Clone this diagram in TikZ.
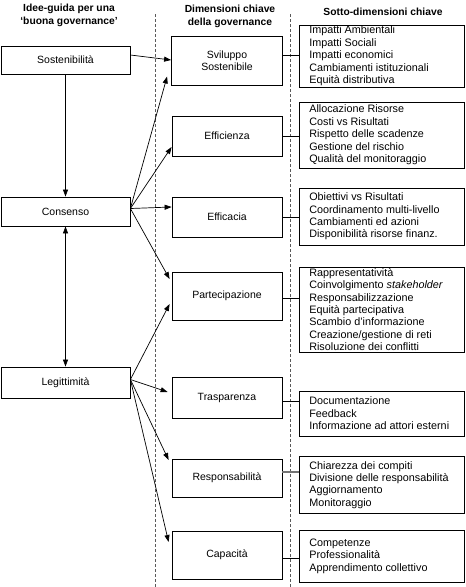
\documentclass[tikz,border=0pt]{standalone}
\usepackage{fontspec}
\setmainfont{Liberation Sans}
\usetikzlibrary{arrows.meta}
\begin{document}
\begin{tikzpicture}[x=1pt,y=-1pt,
  box/.style={draw,line width=0.8pt,inner sep=0pt,font=\fontsize{10.5}{12.5}\selectfont,align=center},
  lst/.style={draw,line width=0.8pt,inner sep=0pt,minimum width=165pt},
  lsttext/.style={anchor=west,inner sep=0pt,align=left,font=\fontsize{10.8}{12.4}\selectfont},
  head/.style={font=\fontsize{10.3}{13}\selectfont\bfseries,align=center},
  arr/.style={-{Triangle[length=7pt,width=5pt]},line width=0.7pt},
  link/.style={line width=0.7pt},
  sep/.style={dash pattern=on 3pt off 2pt,line width=0.8pt,black!65}]
\useasboundingbox (0,0) rectangle (466,587);
% separators
\draw[sep] (155,14) -- (155,587);
\draw[sep] (290,14) -- (290,587);
% headings
\node[head] (h1) at (69,15) {Idee-guida per una\\‘buona governance’};
\node[head] (h2) at (230,16) {Dimensioni chiave\\della governance};
\node[head] (h3) at (383,12) {Sotto-dimensioni chiave};
% left column
\node[box,minimum width=129pt,minimum height=28pt] (sos) at (65.5,60) {Sostenibilità};
\node[box,minimum width=129pt,minimum height=29pt] (con) at (65.5,211.5) {Consenso};
\node[box,minimum width=129pt,minimum height=31pt] (leg) at (65.5,382.5) {Legittimità};
% middle column
\node[box,minimum width=111pt,minimum height=49pt] (svs) at (227,60.5) {Sviluppo\\Sostenibile};
\node[box,minimum width=110pt,minimum height=40pt] (eff) at (227,136) {Efficienza};
\node[box,minimum width=110pt,minimum height=40pt] (efc) at (227,217) {Efficacia};
\node[box,minimum width=110pt,minimum height=48pt] (par) at (227,296) {Partecipazione};
\node[box,minimum width=110pt,minimum height=41pt] (tra) at (227,397.5) {Trasparenza};
\node[box,minimum width=110pt,minimum height=38pt] (res) at (227,478) {Responsabilità};
\node[box,minimum width=110pt,minimum height=48pt] (cap) at (227,555) {Capacità};
% right column
\node[lst,minimum height=62pt] (l1) at (382,56) {};
\node[lst,minimum height=66pt] (l2) at (382,135) {};
\node[lst,minimum height=57pt] (l3) at (382,216.5) {};
\node[lst,minimum height=85pt] (l4) at (382,309.5) {};
\node[lst,minimum height=45pt] (l5) at (382,413.5) {};
\node[lst,minimum height=57pt] (l6) at (382,485) {};
\node[lst,minimum height=52pt] (l7) at (382,556) {};
\node[lsttext] (t1) at ([xshift=10pt]l1.west) {Impatti Ambientali\\Impatti Sociali\\Impatti economici\\Cambiamenti istituzionali\\Equità distributiva};
\node[lsttext] (t2) at ([xshift=10pt]l2.west) {Allocazione Risorse\\Costi vs Risultati\\Rispetto delle scadenze\\Gestione del rischio\\Qualità del monitoraggio};
\node[lsttext] (t3) at ([xshift=10pt]l3.west) {Obiettivi vs Risultati\\Coordinamento multi-livello\\Cambiamenti ed azioni\\Disponibilità risorse finanz.};
\node[lsttext] (t4) at ([xshift=10pt]l4.west) {Rappresentatività\\Coinvolgimento \textit{stakeholder}\\Responsabilizzazione\\Equità partecipativa\\Scambio d'informazione\\Creazione/gestione di reti\\Risoluzione dei conflitti};
\node[lsttext] (t5) at ([xshift=10pt]l5.west) {Documentazione\\Feedback\\Informazione ad attori esterni};
\node[lsttext] (t6) at ([xshift=10pt]l6.west) {Chiarezza dei compiti\\Divisione delle responsabilità\\Aggiornamento\\Monitoraggio};
\node[lsttext] (t7) at ([xshift=10pt]l7.west) {Competenze\\Professionalità\\Apprendimento collettivo};
% middle -> list links
\draw[link] ([yshift=5.5pt]svs.east) -- ([yshift=5.5pt]svs.east -| l1.west);
\draw[link] (eff.east) -- (eff.east -| l2.west);
\draw[link] (efc.east) -- (efc.east -| l3.west);
\draw[link] ([yshift=-2pt]par.east) -- ([yshift=-2pt]par.east -| l4.west);
\draw[link] ([yshift=-3.5pt]tra.east) -- ([yshift=-3.5pt]tra.east -| l5.west);
\draw[line width=1.6pt,black!55] ([yshift=6pt]res.east) -- ([yshift=6pt]res.east -| l6.west);
\draw[link] ([yshift=-3pt]cap.east) -- ([yshift=-3pt]cap.east -| l7.west);
% vertical arrows
\draw[arr] (sos.south) -- (con.north);
\draw[arr,{Triangle[length=7pt,width=5pt]}-{Triangle[length=7pt,width=5pt]}] (con.south) -- (leg.north);
% consensus arrows
\coordinate (cs) at ([yshift=3pt]con.east);
\draw[arr] ([yshift=5pt]sos.east) -- ([yshift=0.5pt]svs.west);
\draw[arr] (cs) -- ([xshift=-4pt,yshift=-16pt]svs.west);
\draw[arr] (cs) -- ([yshift=-11pt]eff.west);
\draw[arr] (cs) -- ([yshift=10pt]efc.west);
\draw[arr] (cs) -- ([xshift=-2pt,yshift=17pt]par.west);
% legittimita arrows
\coordinate (ls) at ([yshift=3pt]leg.east);
\draw[arr] (ls) -- ([xshift=-2pt,yshift=-8pt]par.west);
\draw[arr] (ls) -- ([xshift=-4pt,yshift=5.5pt]tra.west);
\draw[arr] (ls) -- ([xshift=-3pt,yshift=18pt]res.west);
\draw[arr] (ls) -- ([xshift=-3pt,yshift=13pt]cap.west);
\end{tikzpicture}
\end{document}
